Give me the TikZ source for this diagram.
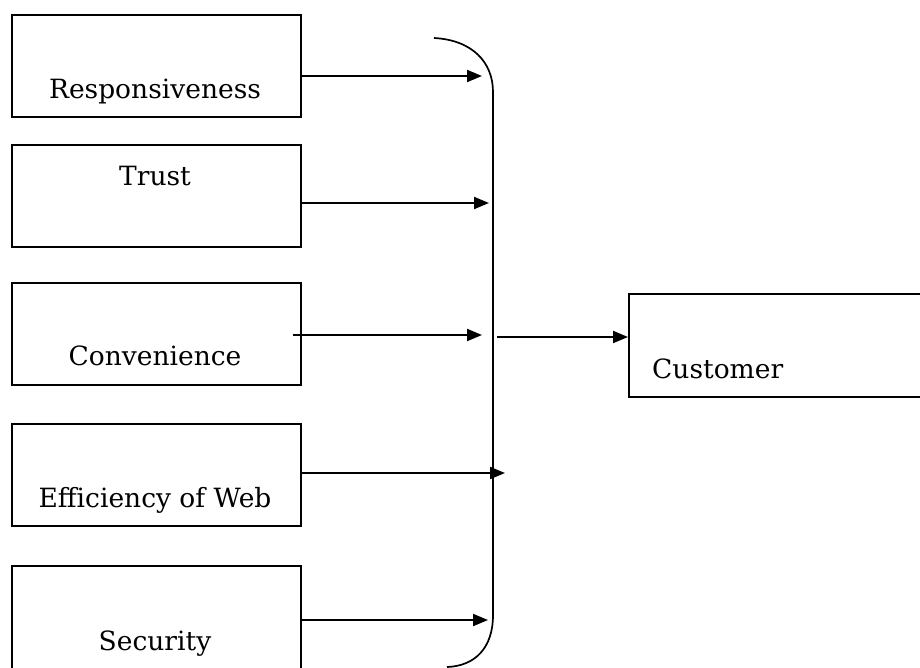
\documentclass[tikz,border=0pt]{standalone}
\usepackage{fontspec}
\setmainfont{DejaVu Serif}
\usetikzlibrary{arrows.meta}
\begin{document}
\begin{tikzpicture}[x=1pt,y=-1pt,
  box/.style={draw, line width=1.7pt, minimum width=289pt, minimum height=102pt, anchor=north west, inner sep=0pt},
  lbl/.style={anchor=base, inner sep=0pt, font=\fontsize{26.5}{30}\selectfont},
  arr/.style={line width=2pt, -{Triangle[length=15pt,width=12pt]}},
  bracket/.style={line width=1.7pt}]
\useasboundingbox (0,0) rectangle (920,667);
\clip (0,0) rectangle (920,667);
\node[box] (r1) at (11,14) {};
\node[box] (r2) at (11,144) {};
\node[box] (r3) at (11,282) {};
\node[box] (r4) at (11,423) {};
\node[box, minimum height=115pt] (r5) at (11,565) {};
\node[box, minimum width=400pt, minimum height=103pt] (cu) at (628,293) {};
\node[lbl] (t1) at (155,98) {Responsiveness};
\node[lbl] (t2) at (155,185) {Trust};
\node[lbl] (t3) at (155,365) {Convenience};
\node[lbl] (t4) at (155,507) {Efficiency of Web};
\node[lbl] (t5) at (155,650) {Security};
\node[lbl, anchor=base west] (t6) at (652,378) {Customer};
\draw[bracket] (434,38) .. controls (472,40) and (493,62) .. (493,92) -- (493,615) .. controls (493,648) and (475,666) .. (447,667);
\coordinate (e1) at (482,76);
\coordinate (e2) at (489,203);
\coordinate (e3) at (482,335);
\coordinate (e4) at (505,473);
\coordinate (e5) at (488,620);
\coordinate (s6) at (497,337);
\draw[arr] (r1.east |- e1) -- (e1);
\draw[arr] (r2.east |- e2) -- (e2);
\draw[arr] ([xshift=-9pt]r3.east |- e3) -- (e3);
\draw[arr] (r4.east |- e4) -- (e4);
\draw[arr] (r5.east |- e5) -- (e5);
\draw[arr] (s6) -- (cu.west |- s6);
\end{tikzpicture}
\end{document}
